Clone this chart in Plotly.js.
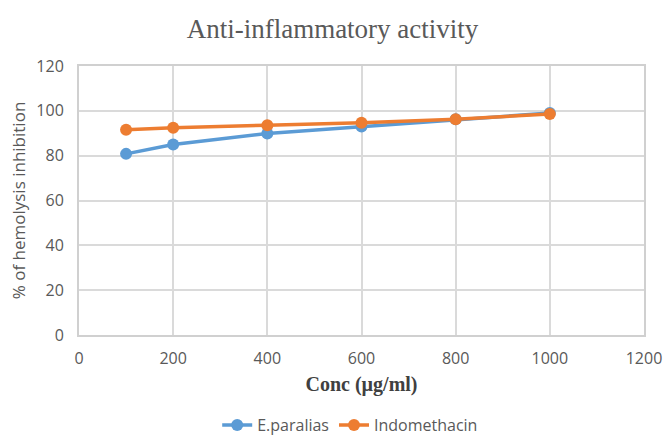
<!DOCTYPE html>
<html>
<head>
<meta charset="utf-8">
<script src="https://cdn.plot.ly/plotly-3.0.1.min.js"></script>
<style>html,body{margin:0;padding:0;background:#fff;}#chart{width:665px;height:443px;}</style>
</head>
<body>
<div id="chart"></div>
<script>
const conc = [100, 200, 400, 600, 800, 1000];
const eParalias = [80.8, 85.0, 89.9, 93.0, 96.2, 99.0];
const indomethacin = [91.6, 92.5, 93.6, 94.7, 96.2, 98.6];
const xTicks = [0, 200, 400, 600, 800, 1000, 1200];
const yTicks = [0, 20, 40, 60, 80, 100, 120];

const traces = [
  {x: conc, y: eParalias, name: 'E.paralias', mode: 'lines+markers', type: 'scatter',
   line: {color: '#5B9BD5', width: 3.5}, marker: {color: '#5B9BD5', size: 12}},
  {x: conc, y: indomethacin, name: 'Indomethacin', mode: 'lines+markers', type: 'scatter',
   line: {color: '#ED7D31', width: 3.5}, marker: {color: '#ED7D31', size: 12}}
];
const layout = {
  width: 665, height: 443,
  margin: {l: 79, r: 21, t: 66, b: 108, autoexpand: false},
  paper_bgcolor: '#fff', plot_bgcolor: '#fff',
  title: {text: 'Anti-inflammatory activity', x: 0.5, xanchor: 'center', y: 0.935, yanchor: 'middle',
          font: {family: 'Liberation Serif, Times New Roman, serif', size: 27, color: '#595959'}},
  xaxis: {range: [0, 1200], tickvals: xTicks, ticktext: xTicks.map(String), showgrid: true, gridcolor: '#dadada', gridwidth: 2,
          zeroline: false, showline: true, linecolor: '#d0d0d0', linewidth: 2, mirror: true, automargin: false,
          ticks: 'outside', ticklen: 8, tickcolor: 'rgba(0,0,0,0)',
          tickfont: {family: 'Open Sans, sans-serif', size: 16, color: '#595959'},
          title: {text: 'Conc (µg/ml)', standoff: 9, font: {family: 'Liberation Serif, Times New Roman, serif', size: 20, color: '#404040', weight: 'bold'}}},
  yaxis: {range: [0, 120], tickvals: yTicks, ticktext: yTicks.map(String), showgrid: true, gridcolor: '#dadada', gridwidth: 2,
          zeroline: false, showline: true, linecolor: '#d0d0d0', linewidth: 2, mirror: true, automargin: false,
          ticks: 'outside', ticklen: 10, tickcolor: 'rgba(0,0,0,0)',
          tickfont: {family: 'Open Sans, sans-serif', size: 16, color: '#595959'},
          title: {text: '% of hemolysis inhibition', standoff: 6, font: {family: 'Open Sans, sans-serif', size: 17, color: '#595959'}}},
  showlegend: true,
  legend: {orientation: 'h', x: 0.48, xanchor: 'center', y: -0.398, yanchor: 'bottom', tracegroupgap: 0,
           font: {family: 'Open Sans, sans-serif', size: 16, color: '#595959'}}
};
Plotly.newPlot('chart', traces, layout, {displayModeBar: false, staticPlot: true});
</script>
</body>
</html>
